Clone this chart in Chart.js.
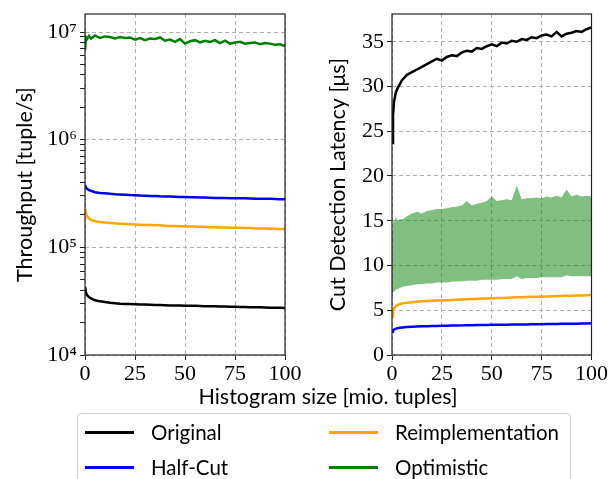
<!DOCTYPE html>
<html>
<head>
<meta charset="utf-8">
<script src="https://cdn.jsdelivr.net/npm/chart.js@4"></script>
<style>
  body { margin: 0; background: #fff; }
  #wrap { position: relative; width: 611px; height: 479px; overflow: hidden; font-family: Lato, sans-serif; color: #000; }
  canvas { position: absolute; left: 0; top: 0; }
  #xlabel { position: absolute; left: 128px; width: 400px; top: 383px; line-height: 26px; text-align: center; font-size: 21.5px; }
  #legend { position: absolute; left: 77px; top: 413px; width: 492px; height: 90px; border: 1px solid #cfcfcf; border-radius: 5px; background: #fff; }
  .item { position: absolute; height: 26px; display: flex; align-items: center; font-size: 20.5px; }
  .item span.ln { display: inline-block; width: 49px; height: 3px; margin-right: 17px; }
</style>
</head>
<body>
<div id="wrap">
  <canvas id="left" width="611" height="479"></canvas>
  <canvas id="right" width="611" height="479"></canvas>
  <div id="xlabel">Histogram size [mio. tuples]</div>
  <div id="legend"></div>
</div>
<script>
// histogram size in mio. tuples
const histSize = [0, 0.5, 1, 2, 3, 4, 5, 7.5, 10, 12.5, 15, 17.5, 20, 22.5, 25, 27.5, 30, 32.5, 35, 37.5,
  40, 42.5, 45, 47.5, 50, 52.5, 55, 57.5, 60, 62.5, 65, 67.5, 70, 72.5, 75, 77.5, 80, 82.5, 85, 87.5,
  90, 92.5, 95, 97.5, 100]

// throughput [tuple/s]
const thrOriginal = [4.3e4, 3.8e4, 3.6e4, 3.45e4, 3.35e4, 3.28e4, 3.22e4, 3.15e4, 3.1e4, 3.06e4, 3.03e4, 3.0e4, 2.98e4, 2.97e4, 2.96e4, 2.95e4, 2.94e4, 2.93e4, 2.92e4, 2.91e4,
  2.9e4, 2.89e4, 2.89e4, 2.88e4, 2.87e4, 2.86e4, 2.86e4, 2.85e4, 2.84e4, 2.84e4, 2.83e4, 2.82e4, 2.82e4, 2.81e4, 2.8e4, 2.79e4, 2.79e4, 2.78e4, 2.77e4, 2.77e4,
  2.76e4, 2.75e4, 2.75e4, 2.74e4, 2.73e4]
const thrHalfCut = [3.8e5, 3.6e5, 3.5e5, 3.4e5, 3.35e5, 3.3e5, 3.25e5, 3.2e5, 3.18e5, 3.15e5, 3.12e5, 3.1e5, 3.08e5, 3.06e5, 3.05e5, 3.03e5, 3.02e5, 3.0e5, 3.0e5, 2.98e5,
  2.97e5, 2.96e5, 2.95e5, 2.94e5, 2.93e5, 2.92e5, 2.92e5, 2.91e5, 2.9e5, 2.89e5, 2.88e5, 2.88e5, 2.87e5, 2.86e5, 2.86e5, 2.85e5, 2.85e5, 2.84e5, 2.83e5, 2.83e5,
  2.82e5, 2.82e5, 2.81e5, 2.8e5, 2.8e5]
const thrReimpl = [2.3e5, 2.05e5, 1.95e5, 1.85e5, 1.8e5, 1.77e5, 1.75e5, 1.72e5, 1.7e5, 1.68e5, 1.67e5, 1.66e5, 1.65e5, 1.64e5, 1.63e5, 1.62e5, 1.61e5, 1.61e5, 1.6e5, 1.6e5,
  1.59e5, 1.58e5, 1.58e5, 1.57e5, 1.57e5, 1.56e5, 1.56e5, 1.55e5, 1.55e5, 1.54e5, 1.54e5, 1.53e5, 1.53e5, 1.52e5, 1.52e5, 1.52e5, 1.51e5, 1.51e5, 1.5e5, 1.5e5,
  1.5e5, 1.49e5, 1.49e5, 1.48e5, 1.48e5]
const thrOptimistic = [6.8e6, 8.9e6, 8.6e6, 9.2e6, 8.7e6, 9.0e6, 9.3e6, 8.8e6, 9.1e6, 9.0e6, 8.7e6, 9.0e6, 8.8e6, 8.9e6, 8.5e6, 8.8e6, 8.4e6, 8.7e6, 8.6e6, 8.9e6,
  8.3e6, 8.5e6, 8.1e6, 8.6e6, 7.8e6, 8.2e6, 8.4e6, 8.0e6, 8.3e6, 8.1e6, 8.4e6, 7.9e6, 8.3e6, 7.8e6, 8.0e6, 8.1e6, 7.8e6, 7.9e6, 8.0e6, 7.7e6,
  7.9e6, 7.8e6, 7.6e6, 7.7e6, 7.4e6]

// cut detection latency [us]
const latOriginal = [23.7, 26.8, 28.3, 29.4, 29.9, 30.3, 30.7, 31.3, 31.6, 31.9, 32.2, 32.5, 32.8, 33.1, 32.9, 33.3, 33.5, 33.4, 33.8, 34.0,
  33.9, 34.3, 34.2, 34.5, 34.7, 34.5, 34.9, 34.8, 35.1, 35.0, 35.3, 35.2, 35.5, 35.4, 35.7, 35.8, 35.6, 36.1, 35.6, 35.9,
  36.0, 36.2, 36.1, 36.4, 36.6]
const latHalfCut = [2.6, 2.75, 2.85, 2.95, 3.0, 3.05, 3.08, 3.12, 3.15, 3.18, 3.2, 3.22, 3.24, 3.25, 3.27, 3.28, 3.29, 3.3, 3.31, 3.32,
  3.33, 3.34, 3.35, 3.36, 3.37, 3.38, 3.38, 3.39, 3.4, 3.41, 3.41, 3.42, 3.43, 3.44, 3.44, 3.45, 3.46, 3.47, 3.48, 3.48,
  3.49, 3.5, 3.51, 3.52, 3.55]
const latReimpl = [4.3, 4.9, 5.2, 5.45, 5.6, 5.7, 5.75, 5.85, 5.9, 5.95, 6.0, 6.02, 6.05, 6.08, 6.1, 6.13, 6.15, 6.18, 6.2, 6.22,
  6.25, 6.27, 6.3, 6.32, 6.35, 6.37, 6.38, 6.4, 6.42, 6.44, 6.45, 6.47, 6.5, 6.51, 6.53, 6.55, 6.56, 6.58, 6.6, 6.61,
  6.62, 6.64, 6.65, 6.67, 6.7]
const latOptimisticLow = [6.6, 7.0, 7.1, 7.3, 7.4, 7.5, 7.6, 7.7, 7.8, 7.9, 7.9, 8.0, 8.0, 8.1, 8.1, 8.1, 8.2, 8.2, 8.2, 8.3,
  8.3, 8.3, 8.4, 8.4, 8.4, 8.4, 8.5, 8.5, 8.5, 8.8, 8.5, 8.6, 8.6, 8.6, 8.7, 8.7, 8.7, 8.7, 8.7, 8.9,
  8.8, 8.8, 8.8, 8.8, 8.8]
const latOptimisticHigh = [14.0, 15.3, 14.8, 15.4, 15.0, 15.2, 15.1, 15.5, 15.8, 16.0, 15.8, 16.1, 16.2, 16.3, 16.3, 16.4, 16.5, 16.6, 16.7, 17.2,
  16.7, 16.9, 17.0, 17.2, 17.7, 17.2, 17.3, 17.4, 17.3, 18.9, 17.4, 17.5, 17.5, 17.6, 17.5, 17.7, 17.6, 17.8, 17.6, 18.5,
  17.7, 17.9, 17.7, 17.8, 17.7]

// ticks
const xTicks = [0, 25, 50, 75, 100]
const thrMajorTicks = [1e4, 1e5, 1e6, 1e7]
const thrTickLabels = ['10⁴', '10⁵', '10⁶', '10⁷']
const latTicks = [0, 5, 10, 15, 20, 25, 30, 35]

const series = [
  { name: 'Original', color: '#000000' },
  { name: 'Half-Cut', color: '#0000ff' },
  { name: 'Reimplementation', color: '#ffa500' },
  { name: 'Optimistic', color: '#008000' },
]

const pts = (ys) => histSize.map((x, i) => ({ x: x, y: ys[i] }))

const tickFont = { family: 'Liberation Serif', size: 22, lineHeight: 1 }
const titleFont = { family: 'Lato', size: 21.5 }
const gridGrey = '#b0b0b0'

// black box round the plot
const frame = {
  id: 'frame',
  afterDraw(chart) {
    const a = chart.chartArea
    const c = chart.ctx
    c.save()
    c.strokeStyle = '#222'
    c.lineWidth = 1.2
    c.strokeRect(a.left, a.top, a.right - a.left, a.bottom - a.top)
    c.restore()
  }
}

function line(ys, color) {
  return { data: pts(ys), borderColor: color, borderWidth: 2.5, pointRadius: 0, fill: false, tension: 0 }
}

function xScale() {
  return {
    type: 'linear', min: 0, max: 100,
    afterBuildTicks: (s) => { s.ticks = xTicks.map(v => ({ value: v })) },
    ticks: { font: tickFont, color: '#000', padding: 3, maxRotation: 0, autoSkip: false },
    grid: { color: gridGrey, tickColor: '#222', tickLength: 5, lineWidth: 1 },
    border: { display: false, dash: [4, 3] },
    afterFit: (s) => { s.height = 40 },
  }
}

// izquierda: throughput
let minorTicks = []
thrMajorTicks.forEach(m => { for (let k = 1; k < 10; k++) { if (m * k <= 1e7) minorTicks.push(m * k) } })

new Chart(document.getElementById('left'), {
  type: 'line',
  data: {
    datasets: [
      line(thrOriginal, series[0].color),
      line(thrHalfCut, series[1].color),
      line(thrReimpl, series[2].color),
      line(thrOptimistic, series[3].color),
    ]
  },
  options: {
    responsive: false,
    animation: false,
    devicePixelRatio: 1,
    layout: { padding: { left: 0, top: 12, right: 326, bottom: 84 } },
    plugins: { legend: { display: false }, tooltip: { enabled: false } },
    scales: {
      x: xScale(),
      y: {
        type: 'logarithmic', min: 1e4, max: 1.47e7,
        afterBuildTicks: (s) => { s.ticks = minorTicks.map(v => ({ value: v })) },
        ticks: {
          font: tickFont, color: '#000', padding: 3, autoSkip: false,
          callback: (v) => { const i = thrMajorTicks.indexOf(v); return i >= 0 ? thrTickLabels[i] : '' }
        },
        grid: {
          color: (ctx) => (ctx.tick && thrMajorTicks.includes(ctx.tick.value)) ? gridGrey : 'rgba(0,0,0,0)',
          tickColor: '#222', tickLength: 5, lineWidth: 1
        },
        border: { display: false, dash: [4, 3] },
        title: { display: true, text: 'Throughput [tuple/s]', font: titleFont, color: '#000', padding: { top: 12, bottom: 0 } },
        afterFit: (s) => { s.width = 85 },
      }
    }
  },
  plugins: [frame]
})

// derecha: latencia
new Chart(document.getElementById('right'), {
  type: 'line',
  data: {
    datasets: [
      { data: pts(latOptimisticLow), borderWidth: 0, pointRadius: 0, fill: false, tension: 0 },
      { data: pts(latOptimisticHigh), borderWidth: 0, pointRadius: 0, fill: '-1', backgroundColor: 'rgba(0,128,0,0.5)', tension: 0 },
      line(latOriginal, series[0].color),
      line(latHalfCut, series[1].color),
      line(latReimpl, series[2].color),
    ]
  },
  options: {
    responsive: false,
    animation: false,
    devicePixelRatio: 1,
    layout: { padding: { left: 320, top: 12, right: 19, bottom: 84 } },
    plugins: { legend: { display: false }, tooltip: { enabled: false } },
    scales: {
      x: xScale(),
      y: {
        type: 'linear', min: 0, max: 38.1,
        afterBuildTicks: (s) => { s.ticks = latTicks.map(v => ({ value: v })) },
        ticks: { font: tickFont, color: '#000', padding: 3, autoSkip: false },
        grid: { color: gridGrey, tickColor: '#222', tickLength: 5, lineWidth: 1 },
        border: { display: false, dash: [4, 3] },
        title: { display: true, text: 'Cut Detection Latency [μs]', font: titleFont, color: '#000', padding: { top: 5, bottom: 0 } },
        afterFit: (s) => { s.width = 72 },
      }
    }
  },
  plugins: [frame]
})

// leyenda
const legend = document.getElementById('legend')
const spots = [[7, 5], [7, 40], [251, 5], [251, 40]]
const order = [0, 1, 2, 3]
order.forEach((k, i) => {
  const d = document.createElement('div')
  d.className = 'item'
  d.style.left = spots[i][0] + 'px'
  d.style.top = spots[i][1] + 'px'
  d.innerHTML = '<span class="ln" style="background:' + series[k].color + '"></span>' + series[k].name
  legend.appendChild(d)
})
</script>
</body>
</html>
